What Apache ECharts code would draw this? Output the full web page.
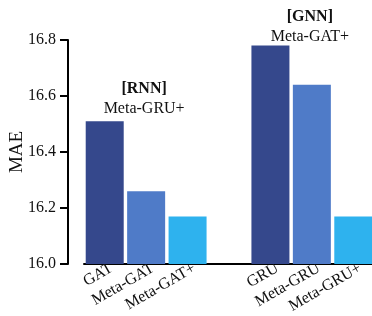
<!DOCTYPE html>
<html>
<head>
<meta charset="utf-8">
<script src="https://cdn.jsdelivr.net/npm/echarts@6/dist/echarts.min.js"></script>
<style>
  html, body { margin: 0; padding: 0; background: #fff; }
  #main { width: 372px; height: 316px; }
</style>
</head>
<body>
<div id="main"></div>
<script>
  // categories (empty slot separates the two groups)
  var categories = ['GAT', 'Meta-GAT', 'Meta-GAT+', '', 'GRU', 'Meta-GRU', 'Meta-GRU+'];
  var maeValues = [16.51, 16.26, 16.17, null, 16.78, 16.64, 16.17];
  var barColors = ['#35488C', '#4F7BC8', '#2EB2EE', '#fff', '#35488C', '#4F7BC8', '#2EB2EE'];
  var yTicks = [16.0, 16.2, 16.4, 16.6, 16.8];
  var groupNotes = [
    { tag: '[RNN]', name: 'Meta-GRU+' },
    { tag: '[GNN]', name: 'Meta-GAT+' }
  ];

  var font = 'Liberation Serif';
  var myChart = echarts.init(document.getElementById('main'));

  var data = maeValues.map(function (v, i) {
    return { value: v, itemStyle: { color: barColors[i] } };
  });

  var option = {
    backgroundColor: '#fff',
    animation: false,
    textStyle: { fontFamily: font },
    grid: { left: 84, right: -2, top: 40, bottom: 52, outerBoundsMode: 'none', containLabel: false },
    xAxis: {
      type: 'category',
      data: categories,
      axisLine: { show: true, lineStyle: { color: '#000', width: 2 } },
      axisTick: { show: false },
      axisLabel: {
        interval: 0,
        rotate: 30,
        margin: 7,
        color: '#111',
        fontFamily: font,
        fontSize: 16,
        formatter: function (v) { return v ? '{t|' + v + '}' : ''; },
        rich: {
          t: { fontFamily: font, fontSize: 16, color: '#111', padding: [0, -8, 0, 0] }
        }
      }
    },
    yAxis: {
      type: 'value',
      min: yTicks[0],
      max: yTicks[yTicks.length - 1],
      interval: 0.2,
      offset: 16,
      name: 'MAE',
      nameLocation: 'middle',
      nameGap: 41,
      nameMoveOverlap: false,
      nameTextStyle: { fontFamily: font, fontSize: 19, color: '#111' },
      axisLine: { show: true, lineStyle: { color: '#000', width: 2 } },
      axisTick: { show: true, inside: false, length: 8, lineStyle: { color: '#000', width: 2 } },
      splitLine: { show: false },
      axisLabel: {
        margin: 12,
        color: '#111',
        fontFamily: font,
        fontSize: 16,
        formatter: function (v) { return v.toFixed(1); }
      }
    },
    series: [{
      type: 'bar',
      data: data,
      barWidth: 38
    }]
  };
  myChart.setOption(option);

  // group notes placed over the middle of each group
  var notePos = [
    myChart.convertToPixel({ xAxisIndex: 0, yAxisIndex: 0 }, ['Meta-GAT', 16.51]),
    myChart.convertToPixel({ xAxisIndex: 0, yAxisIndex: 0 }, ['Meta-GRU', 16.78])
  ];
  var noteShift = [-2, 1];
  myChart.setOption({
    graphic: groupNotes.map(function (n, i) {
      return {
        type: 'text',
        x: notePos[i][0] - 2,
        y: notePos[i][1] + noteShift[i],
        style: {
          text: '{b|' + n.tag + '}\n{n|' + n.name + '}',
          textAlign: 'center',
          textVerticalAlign: 'bottom',
          fill: '#111',
          rich: {
            b: { fontFamily: font, fontSize: 16, fontWeight: 'bold', lineHeight: 20, align: 'center' },
            n: { fontFamily: font, fontSize: 16, lineHeight: 20, align: 'center' }
          }
        }
      };
    })
  });
</script>
</body>
</html>
